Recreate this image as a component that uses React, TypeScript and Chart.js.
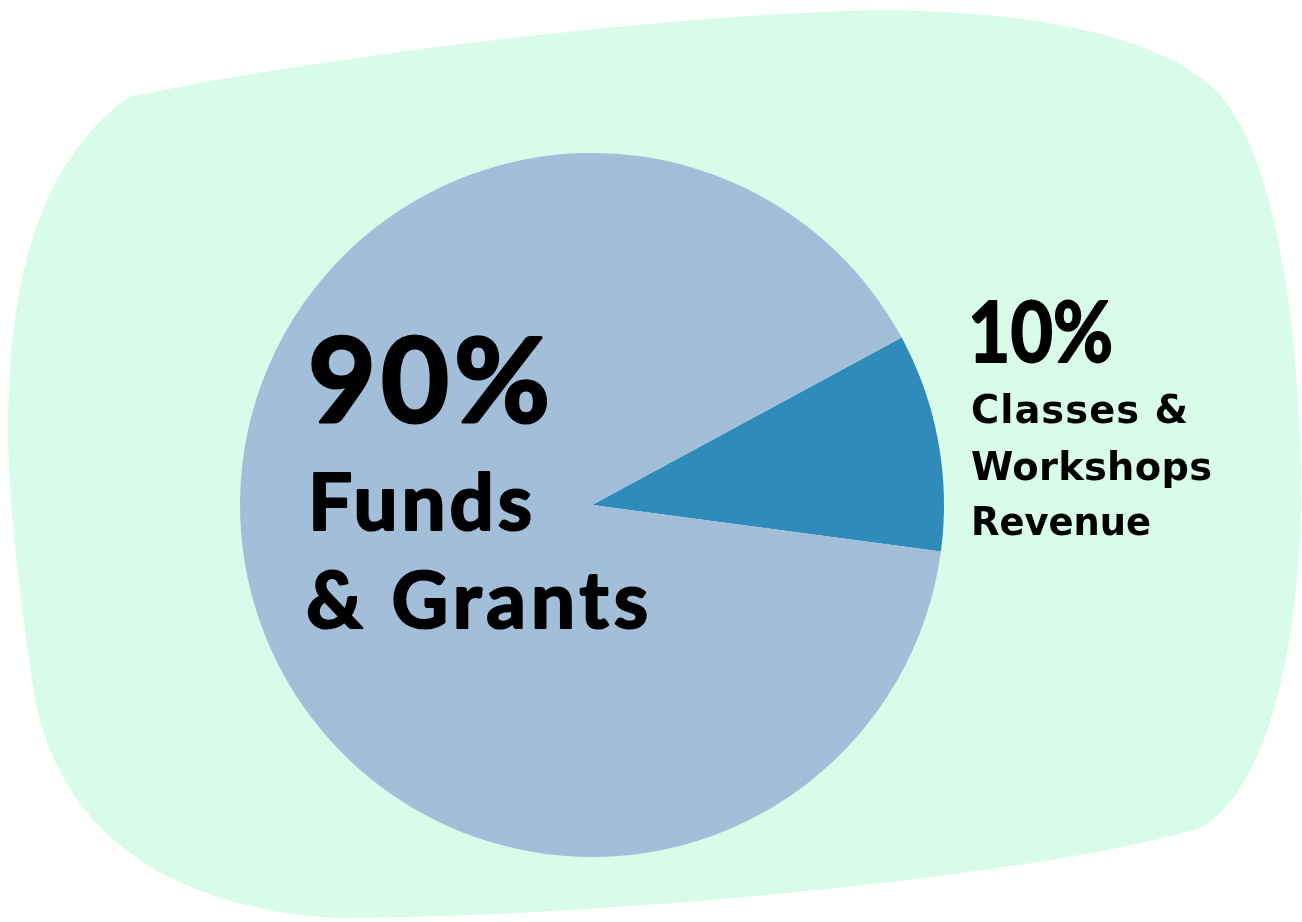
import React, { useEffect, useRef } from "react";
import { Chart, registerables } from "chart.js";

Chart.register(...registerables);

// ---- data ----
const categories = ["Classes & Workshops Revenue", "Funds & Grants"];
const shares = [10, 90];
const sliceColors = ["#2e8bba", "#a3bed9"];

const bigLabels = ["10%", "90%"];
const smallLabels = [
  ["Classes &", "Workshops", "Revenue"],
  ["Funds", "& Grants"],
];

const BLOB_COLOR = "#d9fbe9";
const LATO = "Lato, 'Open Sans', sans-serif";
const DEJAVU = "'DejaVu Sans', Lato, sans-serif";

function drawFit(
  ctx: CanvasRenderingContext2D,
  text: string,
  x: number,
  baseline: number,
  cap: number,
  width: number,
  family: string,
  capRatio: number,
  stroke: number
) {
  const size = cap / capRatio;
  ctx.font = `bold ${size}px ${family}`;
  (ctx as any).letterSpacing = "0px";
  const w = ctx.measureText(text).width;
  ctx.save();
  ctx.translate(x, baseline);
  if (w > width) {
    ctx.scale(width / w, 1);
  } else {
    const n = Math.max(1, text.length - 1);
    (ctx as any).letterSpacing = `${(width - w) / n}px`;
  }
  ctx.fillText(text, 0, 0);
  if (stroke > 0) {
    ctx.lineWidth = stroke;
    ctx.lineJoin = "round";
    ctx.strokeText(text, 0, 0);
  }
  ctx.restore();
  (ctx as any).letterSpacing = "0px";
}

const blobPlugin = {
  id: "blob",
  beforeDraw(chart: any) {
    const ctx: CanvasRenderingContext2D = chart.ctx;
    ctx.save();
    ctx.fillStyle = "#ffffff";
    ctx.fillRect(0, 0, chart.width, chart.height);
    ctx.beginPath();
    ctx.moveTo(129, 97);
    ctx.bezierCurveTo(300, 60, 650, 15, 880, 10);
    ctx.bezierCurveTo(1080, 12, 1180, 50, 1222, 97);
    ctx.bezierCurveTo(1275, 160, 1298, 320, 1301, 470);
    ctx.bezierCurveTo(1304, 630, 1270, 790, 1200, 828);
    ctx.bezierCurveTo(1050, 875, 600, 918, 333, 918);
    ctx.bezierCurveTo(150, 905, 60, 820, 35, 700);
    ctx.bezierCurveTo(20, 600, 8, 500, 8, 430);
    ctx.bezierCurveTo(8, 280, 40, 160, 129, 97);
    ctx.closePath();
    ctx.fillStyle = BLOB_COLOR;
    ctx.fill();
    ctx.restore();
  },
};

const labelPlugin = {
  id: "labels",
  afterDraw(chart: any) {
    const ctx: CanvasRenderingContext2D = chart.ctx;
    ctx.save();
    ctx.fillStyle = "#000000";
    ctx.strokeStyle = "#000000";
    ctx.textAlign = "left";
    ctx.textBaseline = "alphabetic";
    // 10% block (right, outside)
    drawFit(ctx, bigLabels[0], 968, 362, 60, 145, LATO, 0.7165, 2);
    drawFit(ctx, smallLabels[0][0], 971, 423, 28, 217, DEJAVU, 0.729, 0);
    drawFit(ctx, smallLabels[0][1], 971, 480, 28, 241, DEJAVU, 0.729, 0);
    drawFit(ctx, smallLabels[0][2], 971, 535, 28, 180, DEJAVU, 0.729, 0);
    // 90% block (inside)
    drawFit(ctx, bigLabels[1], 308, 422, 84, 242, LATO, 0.7165, 3);
    drawFit(ctx, smallLabels[1][0], 308, 530, 56, 224, LATO, 0.7165, 2.2);
    drawFit(ctx, smallLabels[1][1], 306, 628, 56, 342, LATO, 0.7165, 2.2);
    ctx.restore();
  },
};

export default function App() {
  const ref = useRef<HTMLCanvasElement | null>(null);
  useEffect(() => {
    document.body.style.margin = "0";
    const canvas = ref.current!;
    const chart = new Chart(canvas, {
      type: "pie",
      data: {
        labels: categories,
        datasets: [
          {
            data: shares,
            backgroundColor: sliceColors,
            borderWidth: 0,
          },
        ],
      },
      options: {
        responsive: false,
        animation: false,
        rotation: 61.6,
        layout: { padding: { left: 240, right: 358, top: 153, bottom: 65 } },
        plugins: {
          legend: { display: false },
          tooltip: { enabled: false },
          title: { display: false },
        },
      },
      plugins: [blobPlugin, labelPlugin],
    });
    return () => chart.destroy();
  }, []);
  return (
    <div style={{ position: "absolute", left: 0, top: 0, width: 1302, height: 922 }}>
      <canvas ref={ref} width={1302} height={922} style={{ display: "block" }} />
    </div>
  );
}
